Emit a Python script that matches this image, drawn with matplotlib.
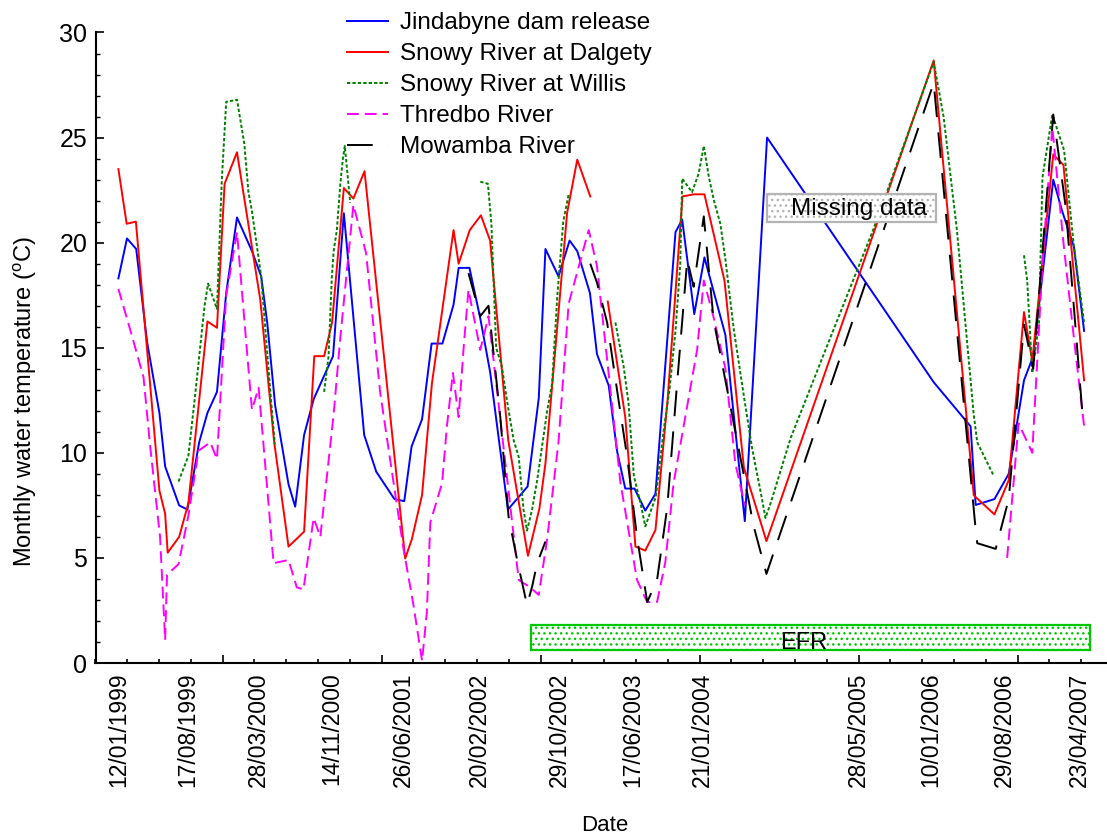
import numpy as np
import pandas as pd
import matplotlib
matplotlib.use("Agg")
import matplotlib.pyplot as plt
import matplotlib.dates as mdates
from matplotlib.patches import Rectangle

plt.rcParams['font.family'] = ['Liberation Sans', 'DejaVu Sans']
plt.rcParams['lines.scale_dashes'] = False
plt.rcParams['mathtext.fontset'] = 'custom'
plt.rcParams['mathtext.rm'] = 'Liberation Sans'

nan = np.nan

# Sampling days are counted from the first survey on 12/01/1999
START = pd.Timestamp('1999-01-12')

dam_days = [0, 27, 56, 90, 129, 147, 191, 217, 254, 280, 310, 339, 373, 420, 449,
            468, 493, 535, 556, 584, 614, 645, 675, 709, 773, 811, 868, 899, 922,
            955, 985, 1019, 1054, 1070, 1104, 1138, 1169, 1225, 1287, 1322, 1343,
            1384, 1419, 1443, 1483, 1505, 1542, 1568, 1594, 1623, 1657, 1689, 1752,
            1773, 1811, 1843, 1909, 1970, 2040, 2564, 2680, 2696, 2755, 2800, 2848,
            2877, 2940, 2968, 3005, 3037]
dam_temp = [18.3, 20.2, 19.7, 15.3, 11.9, 9.35, 7.5, 7.3, 10.5, 11.9, 12.9, 17.6,
            21.2, 19.6, 18.4, 16.2, 12.25, 8.5, 7.44, 10.85, 12.55, 13.6, 14.6,
            21.4, 10.85, 9.1, 7.8, 7.7, 10.3, 11.6, 15.2, 15.2, 17.05, 18.8, 18.8,
            16.4, 13.85, 7.3, 8.4, 12.6, 19.7, 18.4, 20.1, 19.6, 17.6, 14.7, 13.2,
            10.1, 8.3, 8.3, 7.25, 8.05, 20.5, 21.1, 16.6, 19.3, 15.6, 6.75, 25.0,
            13.36, 11.26, 7.52, 7.8, 9.0, 13.45, 14.6, 23.0, 21.5, 19.8, 15.8]

dalgety_days = [0, 26, 55, 129, 147, 155, 191, 220, 280, 310, 334, 373, 446, 490,
                535, 584, 616, 647, 672, 709, 739, 774, 902, 923, 955, 986, 1054,
                1070, 1105, 1140, 1169, 1226, 1288, 1324, 1343, 1411, 1443, 1484,
                1510, 1539, 1594, 1626, 1657, 1689, 1727, 1774, 1809, 1843, 1906,
                1967, 2038, 2564, 2690, 2755, 2800, 2848, 2874, 2940, 2972, 3037]
dalgety_temp = [23.5, 20.9, 21.0, 8.2, 7.1, 5.25, 6.0, 7.6, 16.25, 15.95, 22.8,
                24.3, 17.3, 10.5, 5.54, 6.25, 14.6, 14.6, 16.2, 22.6, 22.1, 23.4,
                4.97, 5.9, 8.0, 13.3, 20.6, 19.0, 20.6, 21.3, 20.1, 10.6, 5.1, 7.35,
                9.5, 21.4, 23.95, 22.2, nan, 17.2, 11.7, 5.54, 5.35, 6.33, 12.5,
                22.2, 22.3, 22.3, 18.2, 9.3, 5.8, 28.67, 7.98, 7.07, 8.7, 16.7,
                14.36, 24.2, 23.7, 13.45]

willis_days = [189, 220, 241, 271, 282, 310, 325, 339, 373, 396, 409, 420, 449, 480,
               492, 570,
               647, 661, 671, 677, 687, 693, 698, 706, 712, 729, 900,
               1138, 1162, 1173, 1188, 1206, 1223, 1243, 1259, 1274, 1285, 1301,
               1317, 1337, 1349, 1364, 1380, 1399, 1416, 1500,
               1563, 1589, 1604, 1621, 1642, 1657, 1690, 1715, 1733, 1752, 1767,
               1773, 1804, 1825, 1841, 1856, 1872, 1893, 1909, 1935, 1967, 1993,
               2019, 2035, 2051, 2114, 2229, 2376, 2564, 2595, 2637, 2690, 2701,
               2753, 2800,
               2848, 2858, 2874, 2895, 2906, 2937, 2974, 3005, 3037]
willis_temp = [8.63, 9.85, 12.7, 17.0, 18.05, 16.85, 22.9, 26.7, 26.8, 24.7, 22.4,
               21.5, 18.4, 12.5, 10.4, nan,
               12.9, 14.6, 18.3, 19.6, 20.6, 21.8, 22.8, 24.0, 24.6, 21.9, nan,
               22.9, 22.8, 20.9, 15.0, 14.1, 12.4, 10.6, 9.8, 7.3, 6.3, 7.3, 8.7,
               10.8, 12.05, 13.3, 17.4, 21.0, 22.3, nan,
               16.2, 14.1, 12.4, 8.9, 7.6, 6.5, 7.9, 11.1, 13.0, 15.8, 19.0, 23.05,
               22.4, 23.3, 24.6, 23.2, 22.05, 20.9, 19.2, 15.9, 12.7, 10.2, 8.2,
               6.9, 7.6, 10.7, 15.1, 20.7, 28.6, 26.0, 20.6, 11.8, 10.5, 8.9, nan,
               19.4, 18.2, 13.8, 16.2, 23.1, 26.1, 24.4, 19.8, 16.2]

thredbo_days = [0, 42, 79, 100, 131, 147, 153, 189, 220, 252, 289, 310, 339, 373,
                404, 420, 441, 488, 535, 561, 582, 614, 635, 677, 698, 739, 779,
                823, 871, 897, 928, 955, 970, 981, 1018, 1033, 1052, 1070, 1086,
                1101, 1138, 1164, 1259, 1295, 1322, 1348, 1384, 1416, 1479, 1505,
                1579, 1631, 1663, 1694, 1720, 1746, 1820, 1841, 1871, 1909, 1940,
                1970, 2400, 2795, 2831, 2874, 2906, 2937, 2972, 3005, 3037]
thredbo_temp = [17.8, 15.6, 13.6, 10.3, 6.0, 1.1, 4.2, 4.7, 7.0, 10.1, 10.5, 9.7,
                17.5, 20.5, 14.9, 12.05, 13.1, 4.75, 4.9, 3.6, 3.5, 6.9, 6.0, 11.85,
                15.5, 21.8, 19.5, 12.9, 8.0, 5.4, 2.75, 0.1, 2.4, 6.7, 8.56, 11.25,
                13.8, 11.7, 15.06, 17.76, 14.9, 16.5, 3.95, 3.6, 3.24, 5.86, 10.5,
                17.1, 20.6, 18.9, 8.56, 3.95, 2.9, 2.9, 4.8, 8.56, 14.9, 18.2, 16.5,
                14.0, 9.5, 7.5, nan, 5.0, 11.4, 10.0, 19.0, 25.5, 20.0, 15.45, 11.26]

mowamba_days = [1101, 1138, 1164, 1201, 1227, 1254, 1285, 1301, 1317, 1343, 1420,
                1484, 1505, 1537, 1568, 1600, 1631, 1663, 1694, 1726, 1757, 1789,
                1809, 1841, 1872, 1925, 1998, 2038, 2564, 2696, 2701, 2759, 2800,
                2848, 2877, 2940, 2979, 3005, 3031]
mowamba_temp = [18.55, 16.5, 17.0, 11.7, 6.97, 4.9, 2.76, 3.63, 4.75, 5.78, nan,
                19.0, 18.1, 16.2, 13.0, 9.8, 6.0, 2.9, 3.95, 7.4, 13.3, 19.2, 17.9,
                21.25, 16.3, 12.2, 6.5, 4.24, 27.6, 6.34, 5.7, 5.43, 7.8, 16.1, 14.0,
                26.1, 21.7, 16.9, 12.0]

tick_dates = ['12/01/1999', '17/08/1999', '28/03/2000', '14/11/2000', '26/06/2001',
              '20/02/2002', '29/10/2002', '17/06/2003', '21/01/2004', '28/05/2005',
              '10/01/2006', '29/08/2006', '23/04/2007']

# Annotated periods (days from first survey) and their vertical extent
efr_span = (1298, 3057)
efr_band = (0.6, 1.8)
missing_span = (2040, 2570)
missing_band = (21.0, 22.3)


def to_dates(days):
    return START + pd.to_timedelta(np.asarray(days, dtype=float), unit='D')


def to_num(days):
    return mdates.date2num(to_dates(days))


W, H = 1107, 838
fig = plt.figure(figsize=(W / 100, H / 100), dpi=100)
x0, y_bot, y_top = 95.5, 663, 32.5
ax = fig.add_axes([x0 / W, 1 - y_bot / H, 1 - x0 / W, (y_bot - y_top) / H])

lw = 1.4
series = [
    (dam_days, dam_temp, dict(color='#0000ff', label='Jindabyne dam release')),
    (dalgety_days, dalgety_temp, dict(color='#ff0000', label='Snowy River at Dalgety')),
    (willis_days, willis_temp, dict(color='#008000', dashes=(2.4, 1.5),
                                    label='Snowy River at Willis')),
    (thredbo_days, thredbo_temp, dict(color='#ff00ff', dashes=(8.5, 4.3),
                                      label='Thredbo River')),
    (mowamba_days, mowamba_temp, dict(color='black', dashes=(18.5, 11),
                                      label='Mowamba River')),
]
for days, temp, style in series:
    ax.plot(to_num(days), temp, lw=lw, **style)

# EFR period bar
efr_x = to_num(efr_span)
ax.add_patch(Rectangle((efr_x[0], efr_band[0]), efr_x[1] - efr_x[0],
                       efr_band[1] - efr_band[0], facecolor='white',
                       edgecolor='#00c800', hatch='...', lw=1.6, zorder=5))
ax.text(efr_x[0] + 0.487 * (efr_x[1] - efr_x[0]), 0.95, 'EFR', fontsize=17,
        ha='center', va='center', zorder=6)

# Missing-data label box
mis_x = to_num(missing_span)
ax.add_patch(Rectangle((mis_x[0], missing_band[0]), mis_x[1] - mis_x[0],
                       missing_band[1] - missing_band[0], facecolor='white',
                       edgecolor='#b4b4b4', hatch='...', lw=1.6, zorder=5))
ax.text(mis_x[0] + 0.545 * (mis_x[1] - mis_x[0]), 21.6, 'Missing data',
        fontsize=17.5, ha='center', va='center', zorder=6)

# Axes limits and spines
ax.set_ylim(0, 30)
ax.set_xlim(to_num([-72, 3109]))
for s in ('top', 'right'):
    ax.spines[s].set_visible(False)
for s in ('left', 'bottom'):
    ax.spines[s].set_linewidth(1.5)

# Y ticks
ax.set_yticks(np.arange(0, 31, 5))
ax.set_yticks(np.arange(0, 31, 1), minor=True)
ax.tick_params(axis='y', which='major', direction='in', length=6, width=1.2,
               labelsize=18, pad=6)
ax.tick_params(axis='y', which='minor', direction='in', length=3, width=1.0)

# X ticks: labels at survey dates, tick marks every 100 days
label_pos = mdates.date2num(pd.to_datetime(tick_dates, format='%d/%m/%Y'))
ax.set_xticks(label_pos)
ax.set_xticklabels(tick_dates, rotation=90)
ax.tick_params(axis='x', which='major', length=0, labelsize=16.5, pad=7)
grid_days = np.arange(-72, 3109, 100)
ax.xaxis.remove_overlapping_locs = False
ax.set_xticks(to_num(grid_days), minor=True)
ax.tick_params(axis='x', which='minor', direction='in', length=3, width=1.2)

ax.set_ylabel(r'Monthly water temperature ($^{\mathrm{o}}$C)', fontsize=17)
ax.yaxis.set_label_coords(-0.056, 0.4155)
ax.set_xlabel('Date', fontsize=16)
ax.xaxis.set_label_coords(0.503, -0.241)

fig.legend(*ax.get_legend_handles_labels(), loc='upper left',
           bbox_to_anchor=(347 / W, 1 - 12 / H), frameon=False, fontsize=17.5,
           handlelength=1.69, handletextpad=0.49, labelspacing=0.37,
           borderpad=0, borderaxespad=0)

# Every fifth 100-day mark is drawn longer
for i, tick in enumerate(ax.xaxis.get_minor_ticks(len(grid_days))):
    if i % 5 == 4:
        tick.tick1line.set_markersize(6)

fig.savefig('out.png', dpi=100)
